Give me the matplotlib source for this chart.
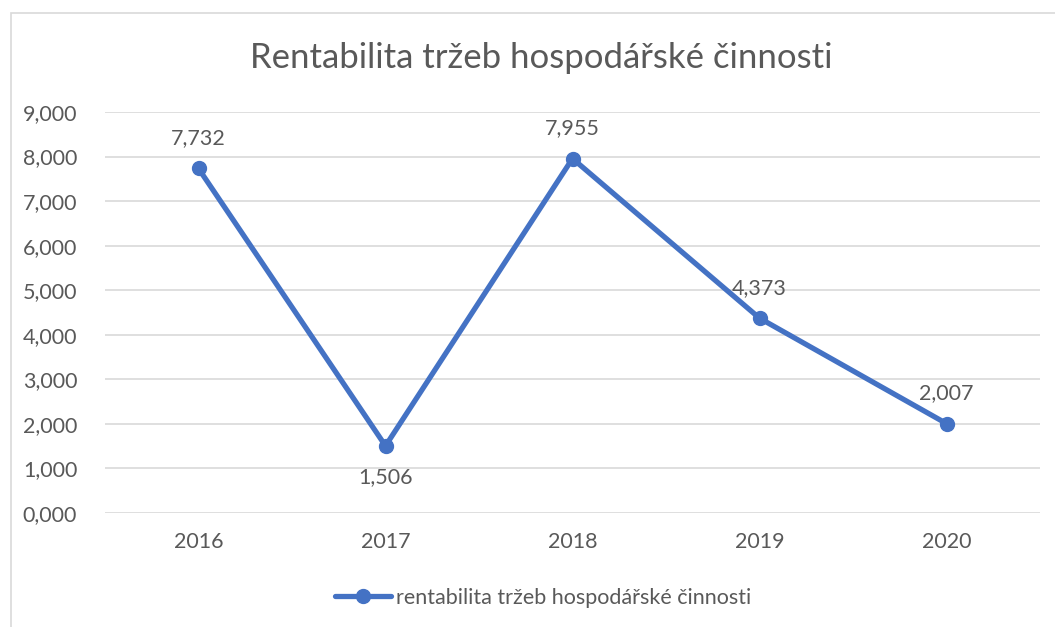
import matplotlib
matplotlib.use("Agg")
import matplotlib.pyplot as plt
from matplotlib.patches import Rectangle

years = ["2016", "2017", "2018", "2019", "2020"]
values = [7.732, 1.506, 7.955, 4.373, 2.007]
label_pos = ["above", "below", "above", "above", "above"]
yticks = [0, 1, 2, 3, 4, 5, 6, 7, 8, 9]

title = "Rentabilita tržeb hospodářské činnosti"
series_name = "rentabilita tržeb hospodářské činnosti"

plt.rcParams['font.family'] = ['Lato', 'DejaVu Sans']
txt = "#595959"
blue = "#4472C4"

fig = plt.figure(figsize=(10.55, 6.27), dpi=100)
fig.patches.append(Rectangle((11/1055, -0.1), 1.2, 1 - 13/627 + 0.1, transform=fig.transFigure,
                             fill=False, edgecolor="#d9d9d9", linewidth=1.2))
ax = fig.add_axes([105/1055, 1 - 513/627, 935/1055, (513 - 112)/627])
x = list(range(len(years)))
ax.plot(x, values, color=blue, linewidth=3.8, marker='o', markersize=10, zorder=3,
        label=series_name, solid_capstyle='round')
ax.set_xlim(-0.5, len(years) - 0.5)
ax.set_ylim(0, 9)
ax.set_yticks(yticks)
ax.set_yticklabels([f"{v},000" for v in yticks])
ax.set_xticks(x)
ax.set_xticklabels(years)
ax.grid(axis='y', color='#d9d9d9', linewidth=1.2)
ax.set_axisbelow(True)
for s in ax.spines.values():
    s.set_visible(False)
ax.tick_params(axis='both', length=0, labelsize=15.5, colors=txt)
ax.tick_params(axis='y', pad=20)
ax.tick_params(axis='x', pad=14)

for xi, v, p in zip(x, values, label_pos):
    lab = f"{v:.3f}".replace('.', ',')
    dy = 30 if p == "above" else -31
    ax.annotate(lab, (xi, v), xytext=(0, dy), textcoords='offset pixels',
                ha='center', va='center', fontsize=15.5, color=txt)

fig.text(541/1055, 1 - 58/627, title, ha='center', va='center', fontsize=25, color=txt)

leg = ax.legend(loc='center', bbox_to_anchor=(543/1055, 1 - 598/627),
                bbox_transform=fig.transFigure, frameon=False, fontsize=15.5,
                handlelength=2.6, handletextpad=0.2, labelcolor=txt)

fig.savefig("out.png", dpi=100, facecolor='white')
